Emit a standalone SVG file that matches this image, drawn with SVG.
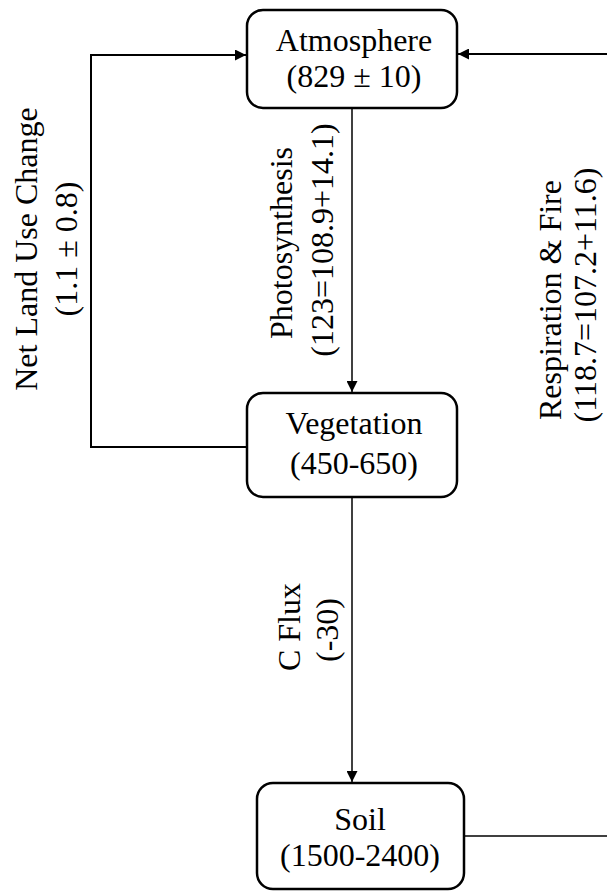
<svg xmlns="http://www.w3.org/2000/svg" width="607" height="892" viewBox="0 0 607 892">
<defs>
<style>
.box{fill:#fff;stroke:#000;stroke-width:2.5}
.t{font-family:"Liberation Serif","Times New Roman",serif;font-size:32px;fill:#000;text-anchor:middle}
.c{fill:none;stroke:#000;stroke-width:2}
.thin{fill:none;stroke:#000;stroke-width:1.5}
</style>
<marker id="ah" viewBox="0 0 10 10" refX="10" refY="5" markerWidth="11" markerHeight="11" markerUnits="userSpaceOnUse" orient="auto">
<path d="M0,0 L10,5 L0,10 z" fill="#000"/>
</marker>
</defs>
<g id="connectors">
<path class="c" d="M247,447 L91,447 L91,55 L246,55" marker-end="url(#ah)"/>
<path class="c" d="M607,54 L458,54" marker-end="url(#ah)"/>
<path class="thin" d="M352,108 L352,392" marker-end="url(#ah)"/>
<path class="thin" d="M352,497 L352,782" marker-end="url(#ah)"/>
<path class="thin" d="M464,836 L607,836"/>
</g>
<g id="label-landuse">
<text class="t" transform="translate(37,249) rotate(-90)">Net Land Use Change</text>
<text class="t" transform="translate(77,249) rotate(-90)">(1.1 ± 0.8)</text>
</g>
<g id="label-photo">
<text class="t" transform="translate(292,243) rotate(-90)">Photosynthesis</text>
<text class="t" transform="translate(333,240) rotate(-90)">(123=108.9+14.1)</text>
</g>
<g id="label-resp">
<text class="t" transform="translate(561,300) rotate(-90)">Respiration &amp; Fire</text>
<text class="t" transform="translate(596,295) rotate(-90)">(118.7=107.2+11.6)</text>
</g>
<g id="label-cflux">
<text class="t" transform="translate(300,627) rotate(-90)">C Flux</text>
<text class="t" transform="translate(338,630) rotate(-90)">(-30)</text>
</g>
<g id="atmosphere">
<rect class="box" x="247" y="10" width="210" height="98" rx="16"/>
<text class="t" x="354" y="51">Atmosphere</text>
<text class="t" x="354" y="87">(829 ± 10)</text>
</g>
<g id="vegetation">
<rect class="box" x="247" y="393" width="210" height="104" rx="16"/>
<text class="t" x="354" y="434">Vegetation</text>
<text class="t" x="354" y="474">(450-650)</text>
</g>
<g id="soil">
<rect class="box" x="257" y="783" width="207" height="106" rx="16"/>
<text class="t" x="360" y="830">Soil</text>
<text class="t" x="360" y="866">(1500-2400)</text>
</g>
</svg>
